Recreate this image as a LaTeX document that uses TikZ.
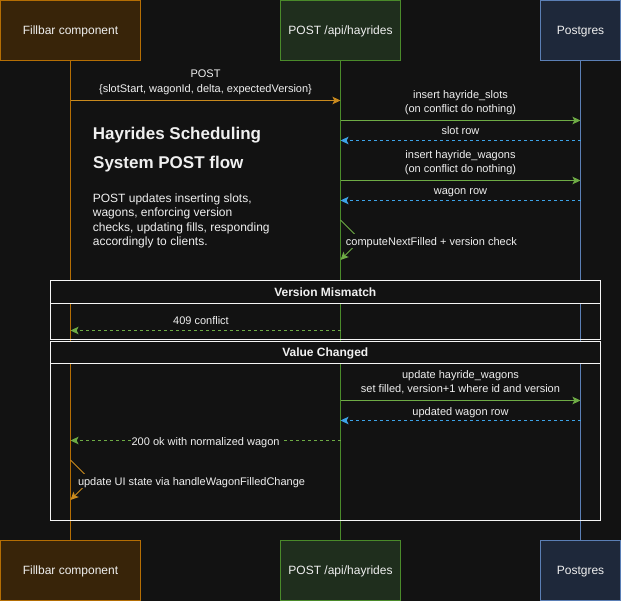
\documentclass[tikz,border=0pt]{standalone}
\usepackage{fontspec}
\setmainfont{Liberation Sans}
\usetikzlibrary{arrows.meta}
\definecolor{bg}{HTML}{121212}
\definecolor{txt}{HTML}{F0F0F0}
\definecolor{oFill}{HTML}{382409}
\definecolor{oLine}{HTML}{B46E04}
\definecolor{oArrow}{HTML}{C98A1E}
\definecolor{gFill}{HTML}{1F2E1D}
\definecolor{gLine}{HTML}{4A8A2A}
\definecolor{gArrow}{HTML}{6EAB45}
\definecolor{bFill}{HTML}{1E283A}
\definecolor{bLine}{HTML}{5B7FB5}
\definecolor{bArrow}{HTML}{3DA3E8}
\definecolor{frameC}{HTML}{F5F5F5}
\begin{document}
\begin{tikzpicture}[x=1pt,y=-1pt,
  actor/.style={draw, line width=1pt, minimum height=60pt, text=txt, inner sep=0pt,
    font=\fontsize{12}{14}\selectfont, text height=8.6pt, text depth=0pt},
  lane/.style={line width=1pt},
  msg/.style={line width=1pt, -{Stealth[length=8pt,width=7.5pt,inset=1.8pt]}},
  ret/.style={msg, dash pattern=on 3pt off 3pt},
  lbl/.style={font=\fontsize{11}{13}\selectfont, text=txt, inner sep=0pt, text height=8pt, text depth=0pt},
  lblbg/.style={lbl, fill=bg, inner xsep=1pt, inner ysep=3pt},
  framehead/.style={draw=frameC, line width=1pt, fill=bg, text=txt, inner sep=0pt,
    font=\bfseries\fontsize{12}{14}\selectfont, text height=8.6pt, text depth=0pt},
  frameline/.style={draw=frameC, line width=1pt},
  title/.style={font=\bfseries\fontsize{17}{20}\selectfont, text=txt, inner sep=0pt, anchor=base west},
  para/.style={font=\fontsize{12}{14}\selectfont, text=txt, inner sep=0pt, anchor=base west}
]
\useasboundingbox (0,0) rectangle (621,601);
\fill[bg] (0,0) rectangle (621,601);

% actors
\node[actor, fill=oFill, draw=oLine, minimum width=140pt] (fTop) at (70.5,30.5) {Fillbar component};
\node[actor, fill=gFill, draw=gLine, minimum width=120pt] (pTop) at (340.5,30.5) {POST /api/hayrides};
\node[actor, fill=bFill, draw=bLine, minimum width=80pt] (gTop) at (580.5,30.5) {Postgres};
\node[actor, fill=oFill, draw=oLine, minimum width=140pt] (fBot) at (70.5,570.5) {Fillbar component};
\node[actor, fill=gFill, draw=gLine, minimum width=120pt] (pBot) at (340.5,570.5) {POST /api/hayrides};
\node[actor, fill=bFill, draw=bLine, minimum width=80pt] (gBot) at (580.5,570.5) {Postgres};

% lifelines
\draw[lane, oLine] (fTop.south) -- (fBot.north);
\draw[lane, gLine] (pTop.south) -- (pBot.north);
\draw[lane, bLine] (gTop.south) -- (gBot.north);

% frames
\draw[frameline] (50.4,280.3) rectangle (600.2,339.8);
\node[framehead, minimum width=549.8pt, minimum height=23pt] (vmHead) at (325.3,291.8) {Version Mismatch};
\draw[frameline] (50.4,341.2) rectangle (600.2,520);
\node[framehead, minimum width=549.8pt, minimum height=22.1pt] (vcHead) at (325.3,352.25) {Value Changed};

% coordinates on lifelines
\coordinate (f100) at (70.5,100.5);
\coordinate (p100) at (340.5,100.5);
\coordinate (p120) at (340.5,120.5);
\coordinate (g120) at (580.5,120.5);
\coordinate (g140) at (580.5,140.5);
\coordinate (p140) at (340.5,140.5);
\coordinate (p180) at (340.5,180.5);
\coordinate (g180) at (580.5,180.5);
\coordinate (g200) at (580.5,200.5);
\coordinate (p200) at (340.5,200.5);
\coordinate (p220) at (340.5,220);
\coordinate (pTip) at (360.5,240);
\coordinate (p260) at (340.5,260);
\coordinate (p330) at (340.5,330.5);
\coordinate (f330) at (70.5,330.5);
\coordinate (p400) at (340.5,400.5);
\coordinate (g400) at (580.5,400.5);
\coordinate (g420) at (580.5,420.5);
\coordinate (p420) at (340.5,420.5);
\coordinate (p440) at (340.5,440.5);
\coordinate (f440) at (70.5,440.5);
\coordinate (f460) at (70.5,460);
\coordinate (fTip) at (90.5,480);
\coordinate (f500) at (70.5,500);

% title block
\node[title] (t1) at (92.7,140) {Hayrides Scheduling};
\node[title] (t2) at (93,168.3) {System POST flow};
\node[para] (d1) at (92.7,202.7) {POST updates inserting slots,};
\node[para] (d2) at (92.7,217) {wagons, enforcing version};
\node[para] (d3) at (92.7,231.3) {checks, updating fills, responding};
\node[para] (d4) at (92.7,245.7) {accordingly to clients.};

% messages
\node[lbl] (m1a) at (205.5,73.5) {POST};
\node[lbl] (m1b) at (205.5,88.3) {\{slotStart, wagonId, delta, expectedVersion\}};
\draw[msg, oArrow] (f100) -- (p100);

\node[lbl] (m2a) at (460.5,94.3) {insert hayride\_slots};
\node[lbl] (m2b) at (460.5,108.3) {(on conflict do nothing)};
\draw[msg, gArrow] (p120) -- (g120);

\node[lbl] (m3) at (460.5,131) {slot row};
\draw[ret, bArrow] (g140) -- (p140);

\node[lbl] (m4a) at (460.5,154.3) {insert hayride\_wagons};
\node[lbl] (m4b) at (460.5,168.3) {(on conflict do nothing)};
\draw[msg, gArrow] (p180) -- (g180);

\node[lbl] (m5) at (460.5,191) {wagon row};
\draw[ret, bArrow] (g200) -- (p200);

\draw[msg, gArrow] (p220) -- (pTip) -- (p260);
\node[lblbg, anchor=west] (m6) at (344.7,241.3) {computeNextFilled + version check};

\node[lbl] (m7) at (201,321) {409 conflict};
\draw[ret, gArrow] (p330) -- (f330);

\node[lbl] (m8a) at (460.5,374.3) {update hayride\_wagons};
\node[lbl] (m8b) at (460.5,388.3) {set filled, version+1 where id and version};
\draw[msg, gArrow] (p400) -- (g400);

\node[lbl] (m9) at (460.5,411) {updated wagon row};
\draw[ret, bArrow] (g420) -- (p420);

\draw[ret, gArrow] (p440) -- (f440);
\node[lblbg] (m10) at (205.6,441) {200 ok with normalized wagon};

\draw[msg, oArrow] (f460) -- (fTip) -- (f500);
\node[lblbg, anchor=west] (m11) at (76.8,481) {update UI state via handleWagonFilledChange};
\end{tikzpicture}
\end{document}
